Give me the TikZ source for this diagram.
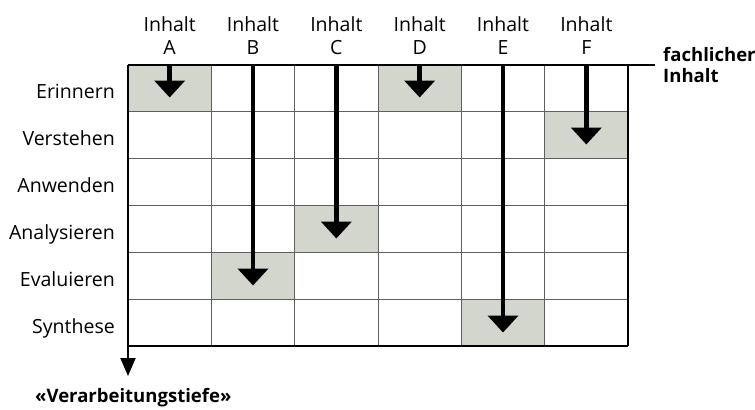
\documentclass[tikz,border=0pt]{standalone}
\usepackage{fontspec}
\setmainfont{Open Sans}
\usetikzlibrary{arrows.meta}
\definecolor{cellfill}{RGB}{211,214,204}
\definecolor{gridgray}{RGB}{95,95,95}
\begin{document}
\begin{tikzpicture}[x=1bp,y=-1bp,
  txt/.style={font=\fontsize{19.6}{24}\selectfont, inner sep=0pt},
  boldtxt/.style={font=\fontsize{18.6}{21}\selectfont\bfseries, inner sep=0pt},
  cell/.style={minimum width=83.333bp, minimum height=47bp, inner sep=0pt, outer sep=0pt},
  hit/.style={cell, fill=cellfill},
  gridline/.style={draw=gridgray, line width=0.9bp},
  bigarrow/.style={line width=4.5bp, -{Triangle[width=30bp,length=17bp]}, shorten >=-9.5bp},
  axis/.style={line width=2bp, -{Triangle[width=15bp,length=18bp]}}
]
\useasboundingbox (0,0) rectangle (755,409);

% target cells (column, row)
\node[hit] (A1) at (169.67,88) {};
\node[hit] (B5) at (253.00,276) {};
\node[hit] (C4) at (336.33,229) {};
\node[hit] (D1) at (419.67,88) {};
\node[hit] (E6) at (503.00,323) {};
\node[hit] (F2) at (586.33,135) {};

% grid
\foreach \i in {1,...,5} {
  \draw[gridline] (128+83.333*\i,64.5) -- (128+83.333*\i,346);
  \draw[gridline] (128,64.5+47*\i) -- (628,64.5+47*\i);
}
\draw[line width=1.2bp] (628,64.5) -- (628,346);
\draw[line width=1.2bp] (128,346) -- (628,346);

% axes
\coordinate (origin) at (128,64.5);
\coordinate (xend) at (655,64.5);
\coordinate (yend) at (128,376);
\draw[line width=2bp] (origin) -- (xend);
\draw[axis] (origin) -- (yend);

% column headers
\foreach \c/\x in {A/169.67,B/253.00,C/336.33,D/419.67,E/503.00,F/586.33} {
  \node[txt, align=center, anchor=north] (h\c) at (\x,16) {Inhalt\\\c};
  \coordinate (t\c) at (\x,64.5);
}

% row labels
\foreach \n/\r/\y in {r1/Erinnern/88, r2/Verstehen/135, r3/Anwenden/182, r4/Analysieren/229, r5/Evaluieren/276, r6/Synthese/323} {
  \node[txt, anchor=base east] (\n) at (115,\y+10) {\r};
}

% axis labels
\node[boldtxt, align=left, anchor=north west] (xlabel) at (663,47) {fachlicher\\Inhalt};
\node[boldtxt, anchor=base west] (ylabel) at (35,402) {«Verarbeitungstiefe»};

% arrows
\draw[bigarrow] (tA) -- (A1.center);
\draw[bigarrow] (tB) -- (B5.center);
\draw[bigarrow] (tC) -- (C4.center);
\draw[bigarrow] (tD) -- (D1.center);
\draw[bigarrow] (tE) -- (E6.center);
\draw[bigarrow] (tF) -- (F2.center);
\end{tikzpicture}
\end{document}
